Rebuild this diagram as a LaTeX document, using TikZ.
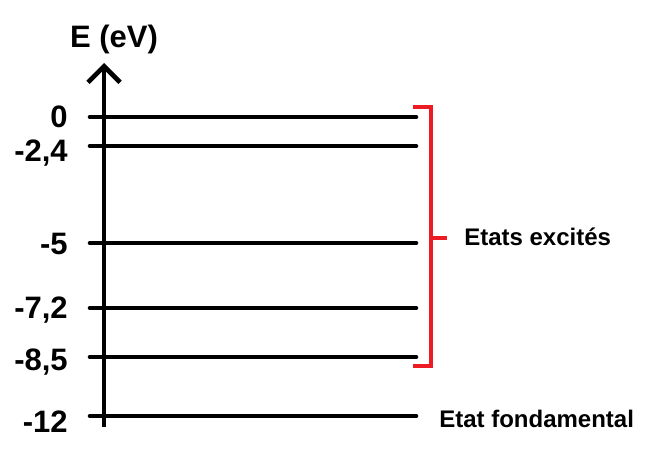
\documentclass[tikz,border=0pt]{standalone}
\usepackage{fontspec}
\setmainfont{Liberation Sans}
\usetikzlibrary{arrows.meta}
\definecolor{rouge}{RGB}{237,28,36}
\begin{document}
\begin{tikzpicture}[x=1pt, y=-1pt, font=\bfseries, line width=4.6pt]

	\useasboundingbox (0,0) rectangle (652,455);

	% axe des energies
	\coordinate (bas) at (104,427);
	\coordinate (haut) at (104,63);
	\draw[-{Straight Barb[length=16pt,width=32pt]}] (bas) -- (haut);
	\node[font=\fontsize{31}{36}\bfseries, inner sep=0pt, anchor=base] (titre) at (114,47) {E (eV)};

	% niveaux
	\foreach \n/\y/\b/\t in {n0/117/127/{0}, n1/146/161/{-2,4}, n2/243/254/{-5},
		n3/308/318/{-7,2}, n4/357/370/{-8,5}, n5/416/432/{-12}} {
		\coordinate (\n-g) at (90,\y);
		\coordinate (\n-d) at (416,\y);
		\draw[line cap=round] (\n-g) -- (\n-d);
		\node[font=\fontsize{31}{36}\bfseries, inner sep=0pt, anchor=base east] (\n-lab) at (70,\b) {\t};
	}

	% accolade rouge
	\coordinate (acc-h) at (413,107);
	\coordinate (acc-hd) at (431,107);
	\coordinate (acc-bd) at (431,366);
	\coordinate (acc-b) at (413,366);
	\coordinate (acc-m) at (431,238);
	\draw[rouge] (acc-h) -- (acc-hd) -- (acc-bd) -- (acc-b);
	\draw[rouge] (acc-m) -- ++(16,0);

	\node[font=\fontsize{24}{28}\bfseries, inner sep=0pt, anchor=base west] (exc) at (462,245) {Etats excités};
	\node[font=\fontsize{24}{28}\bfseries, inner sep=0pt, anchor=base west] (fond) at (437,427) {Etat fondamental};

\end{tikzpicture}
\end{document}
